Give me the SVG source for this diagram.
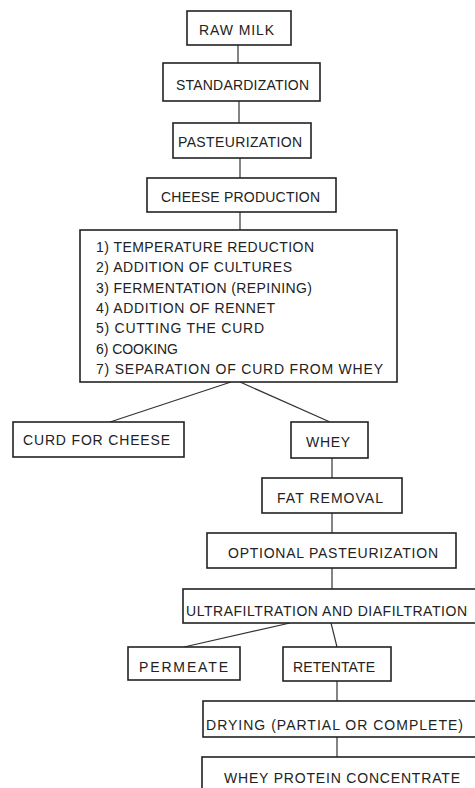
<svg xmlns="http://www.w3.org/2000/svg" width="475" height="788" viewBox="0 0 475 788">
<style>
.box{fill:#fff;stroke:#222;stroke-width:1.6}
.lbl{font-family:"Liberation Sans",Arial,sans-serif;font-size:14px;fill:#222;lengthAdjust:spacing}
.con{stroke:#333;stroke-width:1.2;fill:none}
</style>
<rect width="475" height="788" fill="#fff"/>
<g id="connectors">
<line class="con" x1="238" y1="45" x2="238" y2="63"/>
<line class="con" x1="239" y1="101" x2="239" y2="123"/>
<line class="con" x1="240" y1="158" x2="240" y2="178"/>
<line class="con" x1="240" y1="212" x2="240" y2="230"/>
<line class="con" x1="231" y1="382" x2="110" y2="422"/>
<line class="con" x1="240" y1="382" x2="330" y2="422"/>
<line class="con" x1="332" y1="458" x2="332" y2="478"/>
<line class="con" x1="332" y1="513" x2="332" y2="533"/>
<line class="con" x1="332" y1="568" x2="332" y2="590"/>
<line class="con" x1="290" y1="623" x2="184" y2="647"/>
<line class="con" x1="331" y1="623" x2="337" y2="647"/>
<line class="con" x1="337" y1="681" x2="337" y2="701"/>
<line class="con" x1="337" y1="737" x2="337" y2="757"/>
</g>
<g id="raw-milk"><rect class="box" x="187" y="11" width="104" height="34"/><text class="lbl" x="199" y="35" textLength="75" lengthAdjust="spacing">RAW MILK</text></g>
<g id="standardization"><rect class="box" x="163" y="63" width="157" height="38"/><text class="lbl" x="176" y="90" textLength="133" lengthAdjust="spacing">STANDARDIZATION</text></g>
<g id="pasteurization"><rect class="box" x="173" y="123" width="138" height="35"/><text class="lbl" x="178" y="147" textLength="124" lengthAdjust="spacing">PASTEURIZATION</text></g>
<g id="cheese-production"><rect class="box" x="147" y="178" width="189" height="34"/><text class="lbl" x="161" y="202" textLength="159" lengthAdjust="spacing">CHEESE PRODUCTION</text></g>
<g id="steps"><rect class="box" x="80" y="230" width="317" height="152"/>
<text class="lbl" x="96" y="252" textLength="218" lengthAdjust="spacing">1) TEMPERATURE REDUCTION</text>
<text class="lbl" x="96" y="272" textLength="196" lengthAdjust="spacing">2) ADDITION OF CULTURES</text>
<text class="lbl" x="96" y="293" textLength="216" lengthAdjust="spacing">3) FERMENTATION (REPINING)</text>
<text class="lbl" x="96" y="313" textLength="179" lengthAdjust="spacing">4) ADDITION OF RENNET</text>
<text class="lbl" x="96" y="333" textLength="168" lengthAdjust="spacing">5) CUTTING THE CURD</text>
<text class="lbl" x="96" y="354" textLength="82" lengthAdjust="spacing">6) COOKING</text>
<text class="lbl" x="96" y="374" textLength="287" lengthAdjust="spacing">7) SEPARATION OF CURD FROM WHEY</text>
</g>
<g id="curd-for-cheese"><rect class="box" x="13" y="422" width="171" height="35"/><text class="lbl" x="23" y="445" textLength="147" lengthAdjust="spacing">CURD FOR CHEESE</text></g>
<g id="whey"><rect class="box" x="291" y="422" width="77" height="36"/><text class="lbl" x="306" y="447" textLength="44" lengthAdjust="spacing">WHEY</text></g>
<g id="fat-removal"><rect class="box" x="262" y="478" width="140" height="35"/><text class="lbl" x="277" y="503" textLength="106" lengthAdjust="spacing">FAT REMOVAL</text></g>
<g id="optional-pasteurization"><rect class="box" x="207" y="533" width="249" height="35"/><text class="lbl" x="228" y="558" textLength="210" lengthAdjust="spacing">OPTIONAL PASTEURIZATION</text></g>
<g id="ultrafiltration"><rect class="box" x="183" y="589" width="300" height="34"/><text class="lbl" x="186" y="616" textLength="281" lengthAdjust="spacing">ULTRAFILTRATION AND DIAFILTRATION</text></g>
<g id="permeate"><rect class="box" x="128" y="647" width="112" height="33"/><text class="lbl" x="139" y="672" textLength="89" lengthAdjust="spacing">PERMEATE</text></g>
<g id="retentate"><rect class="box" x="283" y="647" width="108" height="34"/><text class="lbl" x="293" y="672" textLength="82" lengthAdjust="spacing">RETENTATE</text></g>
<g id="drying"><rect class="box" x="203" y="701" width="280" height="36"/><text class="lbl" x="206" y="730" textLength="257" lengthAdjust="spacing">DRYING (PARTIAL OR COMPLETE)</text></g>
<g id="wpc"><rect class="box" x="202" y="757" width="281" height="40"/><text class="lbl" x="224" y="783" textLength="236" lengthAdjust="spacing">WHEY PROTEIN CONCENTRATE</text></g>
</svg>
